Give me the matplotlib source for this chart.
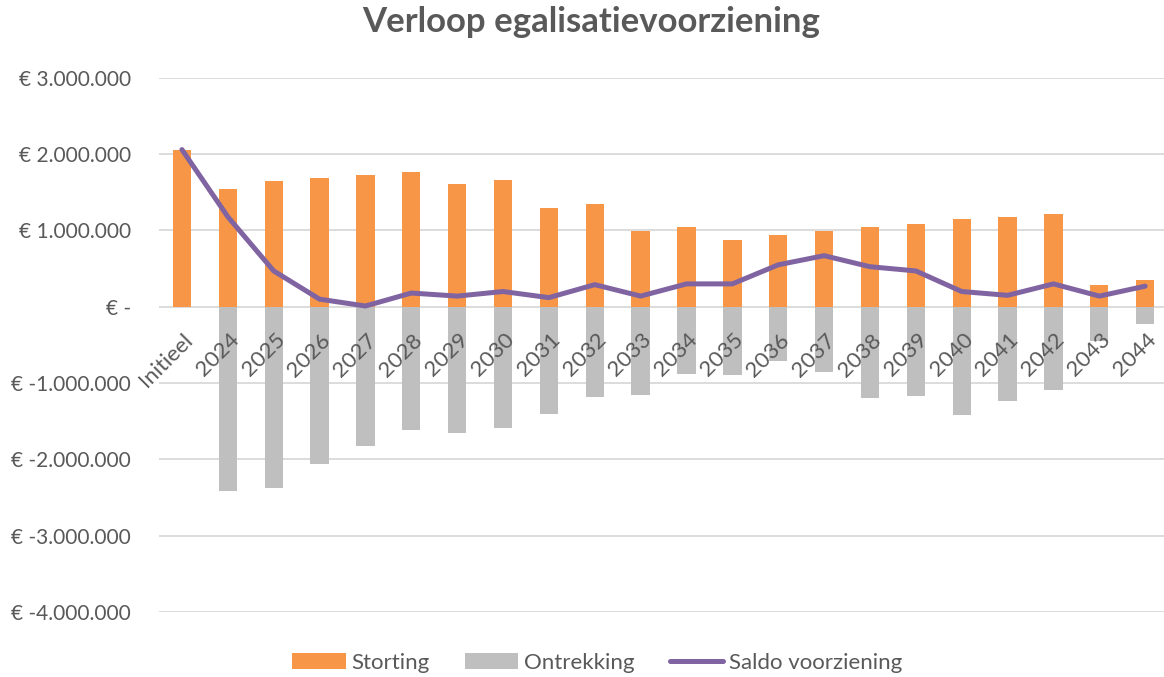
import matplotlib
matplotlib.use("Agg")
import matplotlib.pyplot as plt
import matplotlib.transforms as mtrans
import numpy as np
from matplotlib.ticker import FuncFormatter

categories = ["Initieel"] + [str(y) for y in range(2024, 2045)]
storting = [2050000, 1550000, 1650000, 1690000, 1730000, 1770000, 1610000, 1660000,
            1300000, 1350000, 990000, 1040000, 880000, 940000, 990000, 1040000,
            1090000, 1150000, 1170000, 1220000, 280000, 345000]
ontrekking = [0, -2420000, -2380000, -2060000, -1830000, -1610000, -1660000, -1590000,
              -1410000, -1180000, -1150000, -880000, -890000, -710000, -860000, -1190000,
              -1170000, -1420000, -1230000, -1090000, -450000, -220000]
saldo = [2060000, 1180000, 470000, 100000, 10000, 180000, 140000, 200000,
         120000, 290000, 140000, 300000, 300000, 550000, 670000, 525000,
         470000, 200000, 150000, 300000, 140000, 270000]
yticks = [-4000000, -3000000, -2000000, -1000000, 0, 1000000, 2000000, 3000000]

plt.rcParams['font.family'] = ['Lato', 'DejaVu Sans']
txt = '#595959'

fig = plt.figure(figsize=(11.64, 6.77), dpi=100)
ax = fig.add_axes([0.1366, 0.096, 0.8634, 0.789])

x = np.arange(len(categories))
ax.bar(x, storting, width=0.4, color='#F79646', label='Storting', zorder=2)
ax.bar(x, ontrekking, width=0.4, color='#BFBFBF', label='Ontrekking', zorder=2)
ax.plot(x, saldo, color='#8064A2', linewidth=3.6, label='Saldo voorziening', zorder=4,
        solid_capstyle='round', solid_joinstyle='round')

ax.set_xlim(-0.5, 21.41)
ax.set_ylim(-4000000, 3000000)
ax.set_yticks(yticks)

def fmt(v, pos):
    if v == 0:
        return '€ -'
    s = f"{abs(int(v)):,}".replace(',', '.')
    return f"€ -{s}" if v < 0 else f"€ {s}"

ax.yaxis.set_major_formatter(FuncFormatter(fmt))
ax.grid(axis='y', color='#D9D9D9', linewidth=1.3, zorder=0)
ax.set_axisbelow(True)
for s in ['top', 'right', 'left', 'bottom']:
    ax.spines[s].set_visible(False)
ax.set_xticks([])
ax.tick_params(axis='y', length=0, pad=20, labelsize=15, labelcolor=txt)

offset = mtrans.ScaledTranslation(0.08, -0.30, fig.dpi_scale_trans)
for xi, lab in zip(x, categories):
    ax.text(xi, 0, lab, rotation=45, ha='right', va='center', rotation_mode='anchor',
            fontsize=16, color=txt, transform=ax.transData + offset, zorder=5,
            clip_on=False)

fig.text(0.508, 0.967, 'Verloop egalisatievoorziening', ha='center', va='center',
         fontsize=25, fontweight='bold', color=txt)

handles, labels = ax.get_legend_handles_labels()
order = [1, 2, 0]
fig.legend([handles[i] for i in order], [labels[i] for i in order],
           loc='center', bbox_to_anchor=(0.513, 0.021), ncol=3, frameon=False,
           fontsize=16, labelcolor=txt, handlelength=2.4, handleheight=0.75,
           columnspacing=1.6, handletextpad=0.25)

fig.savefig('out.png', dpi=100)
